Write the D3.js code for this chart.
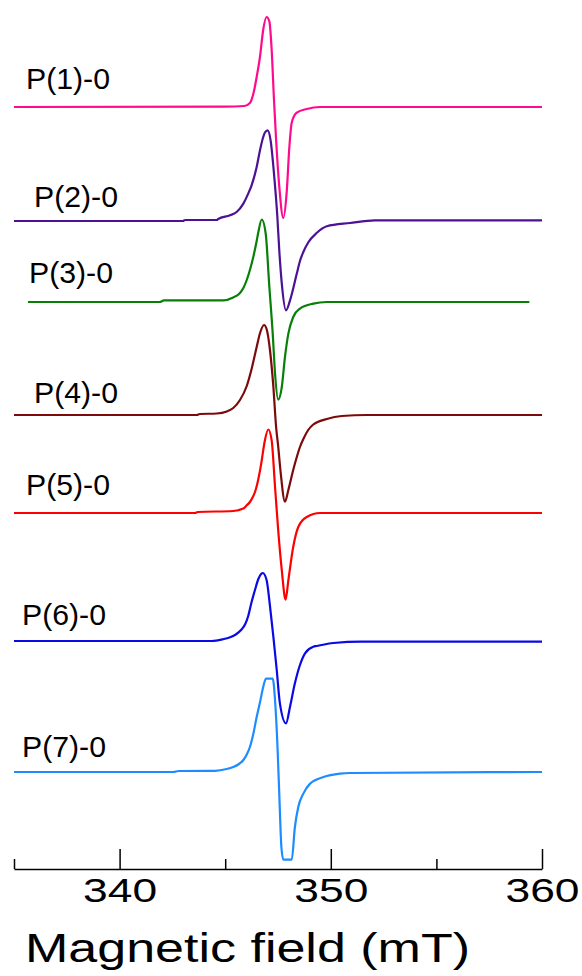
<!DOCTYPE html>
<html>
<head>
<meta charset="utf-8">
<script src="https://cdn.jsdelivr.net/npm/d3@7/dist/d3.min.js"></script>
<style>
  html, body { margin: 0; padding: 0; background: #ffffff; }
  svg { display: block; }
  text { font-family: "Liberation Sans", Arial, sans-serif; fill: #000; }
</style>
</head>
<body>
<svg id="chart" width="582" height="976"></svg>
<script>
// Sample names, one EPR spectrum each
const sampleNames = ["P(1)-0", "P(2)-0", "P(3)-0", "P(4)-0", "P(5)-0", "P(6)-0", "P(7)-0"];

// Vertical stacking offset of each spectrum (a.u.)
const stackOffsets = [762, 648, 567, 454, 356, 228, 97];

// Field (mT) and first-derivative signal (a.u.) for every spectrum
const field1  = [335, 345.0, 345.9, 346.17, 346.33, 346.49, 346.65, 346.80, 346.96, 347.09, 347.20, 347.31, 347.41, 347.56, 347.75, 347.91, 348.04, 348.15, 348.39, 348.86, 349.49, 360];
const signal1 = [0, 0.3, 1, 4, 13, 30, 50.6, 77.3, 90, 85.6, 57.3, 7.3, -32.7, -79.4, -111, -85.7, -39.4, -15.7, -5.7, -2, 0, 0];

const field2  = [335, 343.0, 343.1, 344.6, 344.67, 345.23, 345.54, 345.86, 346.09, 346.25, 346.49, 346.65, 346.80, 346.88, 347.01, 347.15, 347.31, 347.47, 347.56, 347.68, 347.88, 348.07, 348.39, 348.54, 348.70, 348.93, 349.33, 349.81, 350.91, 352.09, 360];
const signal2 = [0, 0, 1, 1, 2, 5.7, 9, 17.4, 27.4, 35.7, 54, 71, 84, 88.5, 90.7, 80.7, 47.4, 4, -29.3, -62.6, -89.3, -79.3, -52.6, -40, -31, -21.5, -12, -5.3, -2, 0.7, 0.7];

const field3  = [335.66, 341.9, 342.1, 344.91, 345.38, 345.70, 345.86, 346.02, 346.17, 346.33, 346.49, 346.57, 346.73, 346.92, 347.08, 347.25, 347.36, 347.51, 347.68, 347.83, 347.99, 348.22, 348.54, 349.17, 349.81, 359.40];
const signal3 = [0, 0, 1.6, 1.7, 4.5, 9, 14, 22, 32, 45, 61, 70, 82.5, 68, 18.4, -31.6, -71.6, -97.6, -85, -55, -31.6, -15, -6.6, -1.6, 0, 0];

const field4  = [335, 343.65, 343.8, 344.60, 345.07, 345.38, 345.70, 346.02, 346.25, 346.49, 346.65, 346.84, 346.96, 347.12, 347.28, 347.41, 347.51, 347.63, 347.83, 347.99, 348.22, 348.39, 348.54, 348.70, 348.93, 349.17, 349.81, 350.52, 351.70, 360];
const signal4 = [0, 0, 1, 1.5, 3.5, 7, 15, 29, 46, 68, 82, 90, 86, 65, 28.3, -12, -31.7, -58.3, -86.7, -75, -55, -42, -32, -24, -15, -9.5, -4, -1, 0, 0];

const field5  = [335, 343.57, 343.7, 345.38, 345.86, 346.02, 346.17, 346.33, 346.41, 346.57, 346.73, 346.80, 346.88, 347.04, 347.20, 347.36, 347.51, 347.68, 347.86, 347.99, 348.22, 348.46, 348.86, 349.49, 360];
const signal5 = [0, 0, 1, 2, 4.4, 7.7, 11, 17, 21, 34, 52.7, 62.7, 72.7, 83.5, 72.7, 26, -17.3, -57.3, -86.6, -67.3, -34, -14, -4, 0, 0];

const field6  = [335, 344.36, 344.9, 345.2, 345.50, 345.75, 345.95, 346.09, 346.25, 346.41, 346.57, 346.70, 346.78, 346.96, 347.12, 347.28, 347.44, 347.59, 347.88, 348.07, 348.30, 348.54, 348.78, 349.17, 349.33, 350.12, 351.46, 360];
const signal6 = [0, 0, 1.8, 3.5, 6.5, 11, 17, 25, 39, 51, 62, 67, 68, 61, 35, 4.3, -29, -62.3, -82.3, -65.7, -42.3, -24, -12.3, -5.7, -5, -2, -0.7, -0.7];

const field7  = [335, 342.54, 342.8, 344.52, 345.07, 345.38, 345.62, 345.86, 346.02, 346.17, 346.33, 346.49, 346.65, 346.80, 346.93, 347.25, 347.36, 347.47, 347.56, 347.66, 347.75, 348.15, 348.30, 348.46, 348.70, 349.02, 349.65, 350.44, 350.91, 360];
const signal7 = [0, 0, 1, 1.2, 3, 5, 7.5, 12, 17.5, 25, 38, 55, 70, 85, 93.4, 93.4, 71.7, 28.4, -21.6, -75, -87.6, -87.6, -55, -35, -21.6, -11.6, -5, -1.6, -1, 0];

const fields  = [field1, field2, field3, field4, field5, field6, field7];
const signals = [signal1, signal2, signal3, signal4, signal5, signal6, signal7];

// Axis ticks (mT)
const majorTicks = [340, 350, 360];
const minorTicks = [335, 345, 355];
const axisTitle = "Magnetic field (mT)";

// Styling and label placement
const lineColors = ["#ff0a8c", "#4b1296", "#088008", "#7d0a0a", "#ff0000", "#0a0ae6", "#1e8cff"];
const labelX = [26, 34, 29, 34, 26, 22, 22];
const labelRise = [18, 14, 19, 12, 18, 16, 15];

const svg = d3.select("#chart");

const x = d3.scaleLinear().domain([335, 360]).range([14, 542]);
const y = d3.scaleLinear().domain([0, 860]).range([869, 9]);

const line = d3.line()
  .x(d => x(d[0]))
  .y(d => y(d[1]))
  .curve(d3.curveMonotoneX);

const traces = svg.append("g").attr("class", "traces");
sampleNames.forEach((name, i) => {
  const pts = fields[i].map((b, k) => [b, stackOffsets[i] + signals[i][k]]);
  traces.append("path")
    .datum(pts)
    .attr("d", line)
    .attr("fill", "none")
    .attr("stroke", lineColors[i])
    .attr("stroke-width", 2.2)
    .attr("stroke-linejoin", "round");
});

const labels = svg.append("g").attr("class", "labels");
sampleNames.forEach((name, i) => {
  labels.append("text")
    .attr("x", labelX[i])
    .attr("y", y(stackOffsets[i]) - labelRise[i])
    .attr("font-size", 29)
    .attr("textLength", 84)
    .attr("lengthAdjust", "spacingAndGlyphs")
    .text(name);
});

// Bottom axis: major ticks with labels, minor ticks without
const axisG = svg.append("g").attr("transform", `translate(0, ${y(0)})`);
axisG.call(d3.axisBottom(x).tickValues(majorTicks).tickSize(-20).tickSizeOuter(0).tickPadding(9).tickFormat(d3.format("d")));
axisG.append("g").call(d3.axisBottom(x).tickValues(minorTicks).tickSize(-10).tickSizeOuter(0).tickFormat(""))
  .select(".domain").remove();
axisG.selectAll("path, line").attr("stroke", "#000").attr("stroke-width", 1.5);
axisG.selectAll(".tick text")
  .attr("font-size", 34)
  .attr("fill", "#000")
  .attr("textLength", 74)
  .attr("lengthAdjust", "spacingAndGlyphs")
  .style("font-family", "'Liberation Sans', Arial, sans-serif");

svg.append("text")
  .attr("x", 25)
  .attr("y", 962)
  .attr("font-size", 40)
  .attr("textLength", 445)
  .attr("lengthAdjust", "spacingAndGlyphs")
  .text(axisTitle);
</script>
</body>
</html>
